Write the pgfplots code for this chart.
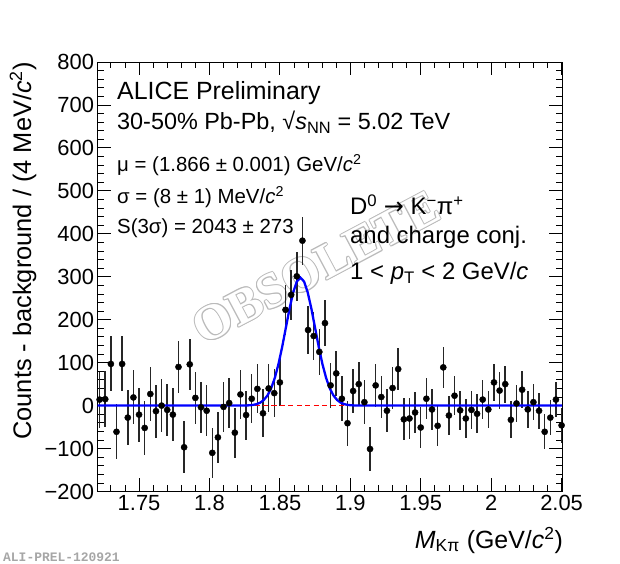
\documentclass[border=0pt]{standalone}
\usepackage{fontspec}
\setmainfont{Liberation Sans}
\newfontfamily\serifwm{Liberation Serif}
\newfontfamily\monof{Liberation Mono}
\newfontfamily\dejavu{DejaVu Sans}
\usepackage{pgfplots}
\usepackage{pgfplotstable}
\pgfplotsset{compat=1.18}

\pgfplotstableread{
x y e
1.722 14 65
1.726 15 65
1.730 97 64
1.734 -61 64
1.738 97 64
1.742 -28 64
1.746 19 63
1.750 -21 63
1.754 -52 63
1.758 27 62
1.762 -13 62
1.766 0 62
1.770 -10 61
1.774 -21 61
1.778 90 61
1.782 -97 60
1.786 96 60
1.790 18 60
1.794 -4 60
1.798 -12 59
1.802 -110 59
1.806 -74 59
1.810 -3 58
1.814 6 58
1.818 -63 58
1.822 26 58
1.826 -22 57
1.830 16 57
1.834 39 57
1.838 -18 56
1.842 40 56
1.846 29 56
1.850 54 55
1.854 223 58
1.858 258 58
1.862 301 57
1.866 384 56
1.870 176 55
1.874 162 55
1.878 125 54
1.882 192 54
1.886 47 53
1.890 75 52
1.894 16 52
1.898 -41 52
1.902 34 51
1.906 50 51
1.910 8 51
1.914 -101 51
1.918 47 50
1.922 20 50
1.926 -12 50
1.930 41 49
1.934 85 49
1.938 -32 49
1.942 -30 48
1.946 -16 48
1.950 -51 48
1.954 16 48
1.958 -9 47
1.962 -47 47
1.966 89 47
1.970 -23 46
1.974 23 46
1.978 -11 46
1.982 -30 45
1.986 -10 45
1.990 -19 45
1.994 14 45
1.998 -9 44
2.002 54 44
2.006 35 44
2.010 50 43
2.014 -33 43
2.018 5 43
2.022 37 43
2.026 -9 42
2.030 8 42
2.034 -12 42
2.038 -61 41
2.042 -28 41
2.046 14 41
2.050 -46 40
}\datatab

% background function (zero) drawn as dashes
\pgfplotstableread{
x y
1.8200 0
1.8236 0
1.8238 nan
1.8260 0
1.8296 0
1.8298 nan
1.8320 0
1.8356 0
1.8358 nan
1.8380 0
1.8416 0
1.8418 nan
1.8440 0
1.8476 0
1.8478 nan
1.8500 0
1.8536 0
1.8538 nan
1.8560 0
1.8596 0
1.8598 nan
1.8620 0
1.8656 0
1.8658 nan
1.8680 0
1.8716 0
1.8718 nan
1.8740 0
1.8776 0
1.8778 nan
1.8800 0
1.8836 0
1.8838 nan
1.8860 0
1.8896 0
1.8898 nan
1.8920 0
1.8956 0
1.8958 nan
1.8980 0
1.9016 0
1.9018 nan
1.9040 0
1.9076 0
1.9078 nan
1.9100 0
1.9136 0
}\bkgtab

\definecolor{fitred}{RGB}{255,0,0}
\definecolor{fitblue}{RGB}{0,0,255}
\newcommand\wmfont{\serifwm\bfseries\fontsize{50}{50}\selectfont}

\begin{document}
\begin{tikzpicture}
% watermark (outlined)
\foreach \dx/\dy in {1/0,-1/0,0/1,0/-1,0.71/0.71,-0.71/0.71,0.71/-0.71,-0.71/-0.71}
  \node[text=black!27, rotate=28, inner sep=0, font=\wmfont] at (316bp+\dx bp,296.5bp+\dy bp) {OBSOLETE};
\node[text=white, rotate=28, inner sep=0, font=\wmfont] at (316bp,296.5bp) {OBSOLETE};

\begin{axis}[
  at={(97.5bp,72.5bp)}, anchor=south west,
  scale only axis, width=464.5bp, height=429.5bp,
  xmin=1.7205, xmax=2.0503, ymin=-200, ymax=800,
  xtick={1.75,1.8,1.85,1.9,1.95,2,2.05},
  xticklabels={1.75,1.8,1.85,1.9,1.95,2,2.05},
  minor xtick={1.73,1.74,1.76,1.77,1.78,1.79,1.81,1.82,1.83,1.84,1.86,1.87,1.88,1.89,1.91,1.92,1.93,1.94,1.96,1.97,1.98,1.99,2.01,2.02,2.03,2.04},
  ytick={-200,-100,0,100,200,300,400,500,600,700,800},
  yticklabels={−200,−100,0,100,200,300,400,500,600,700,800},
  minor ytick={-180,-160,-140,-120,-80,-60,-40,-20,20,40,60,80,120,140,160,180,220,240,260,280,320,340,360,380,420,440,460,480,520,540,560,580,620,640,660,680,720,740,760,780},
  tick align=inside,
  major tick length=13bp, minor tick length=6.5bp,
  every tick/.style={black, line width=0.8bp},
  axis line style={line width=0.9bp},
  tick label style={font=\fontsize{22}{24}\selectfont},
  /pgf/number format/assume math mode=true,
  clip=false,
]
\addplot[only marks, mark=*, mark size=3.1bp, black,
  error bars/.cd, y dir=both, y explicit, error mark=none,
  error bar style={line width=1.5bp, black!85}]
  table[x=x, y=y, y error=e]{\datatab};
\addplot[fitred, no marks, line width=1.6bp, solid, unbounded coords=jump] table[x=x, y=y]{\bkgtab};
\addplot[fitblue, no marks, line width=2.3bp] coordinates {
(1.7205,0) (1.8204,0) (1.8230,0.1) (1.8256,0.26) (1.8282,0.65) (1.8308,1.5) (1.8334,3.3)
(1.8360,6.8) (1.8386,13.1) (1.8412,23.7) (1.8438,40.3) (1.8464,64.5) (1.8490,96.8)
(1.8516,136.4) (1.8542,180.7) (1.8568,224.9) (1.8594,263.0) (1.8620,288.8) (1.8646,298)
(1.8672,288.8) (1.8698,263.0) (1.8724,224.9) (1.8750,180.7) (1.8776,136.4) (1.8802,96.8)
(1.8828,64.5) (1.8854,40.3) (1.8880,23.7) (1.8906,13.1) (1.8932,6.8) (1.8958,3.3)
(1.8984,1.5) (1.9010,0.65) (1.9036,0.26) (1.9062,0.1) (1.9088,0) (2.0503,0)};
\end{axis}

\begin{scope}[every node/.style={inner sep=0, anchor=base west}]
\node[font=\fontsize{25}{28}\selectfont] at (117bp,464.7bp) {ALICE Preliminary};
\node[font=\fontsize{23.5}{28}\selectfont] at (117bp,434.7bp) {30-50\% Pb-Pb, √\textit{s}\textsubscript{NN} = 5.02 TeV};
\node[font=\fontsize{20.5}{24}\selectfont] at (117bp,392.3bp) {μ = (1.866 ± 0.001) GeV/\textit{c}\textsuperscript{2}};
\node[font=\fontsize{20.5}{24}\selectfont] at (117bp,360bp) {σ = (8 ± 1) MeV/\textit{c}\textsuperscript{2}};
\node[font=\fontsize{20.5}{24}\selectfont] at (117bp,330.7bp) {S(3σ) = 2043 ± 273};
\node[font=\fontsize{24}{28}\selectfont] at (350bp,349bp) {D\textsuperscript{0} {\dejavu →} K\textsuperscript{−}π\textsuperscript{+}};
\node[font=\fontsize{24}{28}\selectfont] at (350bp,320.7bp) {and charge conj.};
\node[font=\fontsize{24}{28}\selectfont] at (350bp,284bp) {1 < \textit{p}\textsubscript{T} < 2 GeV/\textit{c}};
\node[anchor=base east, font=\fontsize{25}{28}\selectfont] at (563bp,16bp) {\textit{M}\textsubscript{Kπ} (GeV/\textit{c}\textsuperscript{2})};
\node[anchor=base east, rotate=90, font=\fontsize{25.5}{28}\selectfont] at (31bp,502bp) {Counts - background / (4 MeV/\textit{c}\textsuperscript{2})};
\node[text=black!35, font=\monof\bfseries\fontsize{13}{13}\selectfont] at (3bp,3bp) {ALI-PREL-120921};
\end{scope}

\pgfresetboundingbox
\path[use as bounding box] (0bp,0bp) rectangle (620bp,564bp);
\end{tikzpicture}
\end{document}
